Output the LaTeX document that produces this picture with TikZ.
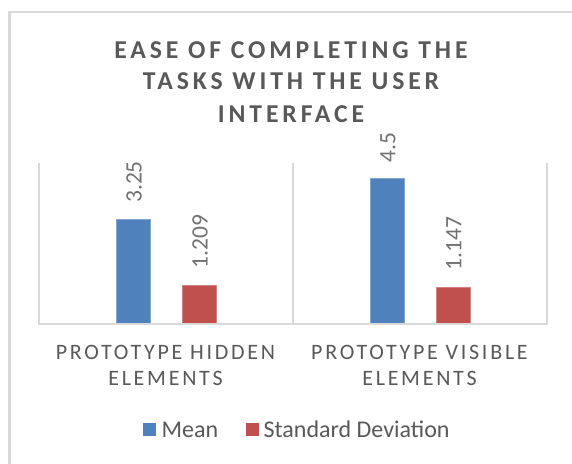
\documentclass[tikz,border=0pt]{standalone}
\usepackage{fontspec}
\setmainfont{Carlito}
\newfontfamily\titlefont[LetterSpace=15]{Carlito}
\newfontfamily\catfont[LetterSpace=12.5]{Carlito}
\definecolor{txt}{HTML}{595959}
\definecolor{gridc}{HTML}{D9D9D9}
\definecolor{barblue}{HTML}{4F81BD}
\definecolor{barred}{HTML}{C0504D}
\begin{document}
\begin{tikzpicture}[x=1pt,y=-1pt,
  titletext/.style={font=\titlefont\bfseries\fontsize{25.7}{30}\selectfont, text=txt, anchor=base, inner sep=0},
  cattext/.style={font=\catfont\fontsize{22}{26}\selectfont, text=txt, anchor=base, inner sep=0},
  datalabel/.style={font=\fontsize{23.5}{26}\selectfont, text=txt!85, rotate=90, anchor=west, inner sep=0},
  legtext/.style={font=\fontsize{24}{28}\selectfont, text=txt, anchor=base west, inner sep=0},
  gridline/.style={draw=gridc, line width=2pt},
  bluebar/.style={fill=barblue, draw=barblue!70!white, line width=0.8pt},
  redbar/.style={fill=barred, draw=barred!70!white, line width=0.8pt},
]
\useasboundingbox (0,0) rectangle (572,463);
\fill[white] (0,0) rectangle (572,463);
% outer frame
\draw[gridc, line width=2.5pt] (9.5,600) -- (9.5,12) -- (700,12);
% title
\node[titletext] (t1) at (291,58.8) {EASE OF COMPLETING THE};
\node[titletext] (t2) at (291,89.3) {TASKS WITH THE USER};
\node[titletext] (t3) at (291,122) {INTERFACE};
% gridlines
\draw[gridline] (39,163) -- (39,324);
\draw[gridline] (293,163) -- (293,324);
\draw[gridline] (546.5,163) -- (546.5,324);
% bars
\filldraw[bluebar] (116,324) rectangle (150,219);
\filldraw[redbar] (182,324) rectangle (216,285);
\filldraw[bluebar] (370,324) rectangle (404,178.5);
\filldraw[redbar] (436,324) rectangle (470,287);
% axis
\draw[gridline] (38,324) -- (547.5,324);
% data labels
\node[datalabel] (d1) at (134,203) {3.25};
\node[datalabel] (d2) at (200,268.5) {1.209};
\node[datalabel] (d3) at (388,162.5) {4.5};
\node[datalabel] (d4) at (454,270.5) {1.147};
% category labels
\node[cattext] (c1a) at (165.5,359) {PROTOTYPE HIDDEN};
\node[cattext] (c1b) at (165.5,385) {ELEMENTS};
\node[cattext] (c2a) at (419.5,359) {PROTOTYPE VISIBLE};
\node[cattext] (c2b) at (419.5,385) {ELEMENTS};
% legend
\fill[barblue] (143.3,423.3) rectangle (156,436);
\node[legtext] (lm) at (161.5,437) {Mean};
\fill[barred] (246,423.3) rectangle (259.3,436);
\node[legtext] (ls) at (263.5,437) {Standard Deviation};
\end{tikzpicture}
\end{document}
